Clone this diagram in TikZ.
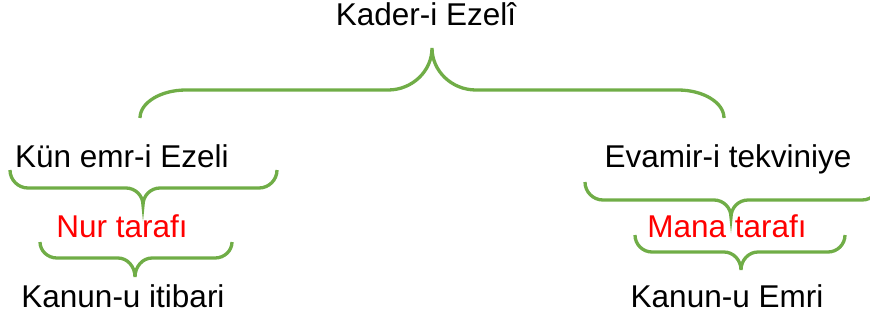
\documentclass[tikz,border=0pt]{standalone}
\usepackage{fontspec}
\setmainfont{Liberation Sans}
\definecolor{bgreen}{HTML}{70AD47}
\definecolor{tred}{HTML}{FF0000}
\newcommand\gbrace[8]{%
\draw[bracestyle] (#1,#3) .. controls (#1,{#3+0.55*(#4-#3)}) and ({#1+0.45*#7},#4) .. ({#1+#7},#4)
 -- ({#5-#8},#4) .. controls ({#5-0.45*#8},#4) and (#5,{#4+0.45*(#6-#4)}) .. (#5,#6)
 .. controls (#5,{#4+0.45*(#6-#4)}) and ({#5+0.45*#8},#4) .. ({#5+#8},#4)
 -- ({#2-#7},#4) .. controls ({#2-0.45*#7},#4) and (#2,{#3+0.55*(#4-#3)}) .. (#2,#3);}
\begin{document}
\begin{tikzpicture}[x=1pt,y=-1pt,
  bracestyle/.style={draw=bgreen,line width=3.3pt},
  lbl/.style={inner sep=0pt,anchor=base,font=\fontsize{31.5}{36}\selectfont},
  redlbl/.style={lbl,text=tred}]
\useasboundingbox (0,0) rectangle (870,322);
\node[lbl] (kader) at (426,25) {Kader-i Ezelî};
\node[lbl] (kun) at (122,167) {Kün emr-i Ezeli};
\node[redlbl] (nur) at (122,237) {Nur tarafı};
\node[lbl] (kanit) at (123,307) {Kanun-u itibari};
\node[lbl] (evamir) at (728,167) {Evamir-i tekviniye};
\node[redlbl] (mana) at (727,237) {Mana tarafı};
\node[lbl] (kanemr) at (727,307) {Kanun-u Emri};
\gbrace{140}{724}{118}{90}{432}{48}{46}{44}
\gbrace{10}{277}{170}{188}{143}{205}{18}{17}
\gbrace{40}{232}{242}{258}{135}{277}{17}{17}
\gbrace{585}{880}{182}{200}{731}{217}{18}{17}
\gbrace{635}{845}{235}{252}{741}{270}{17}{17}
\end{tikzpicture}
\end{document}
